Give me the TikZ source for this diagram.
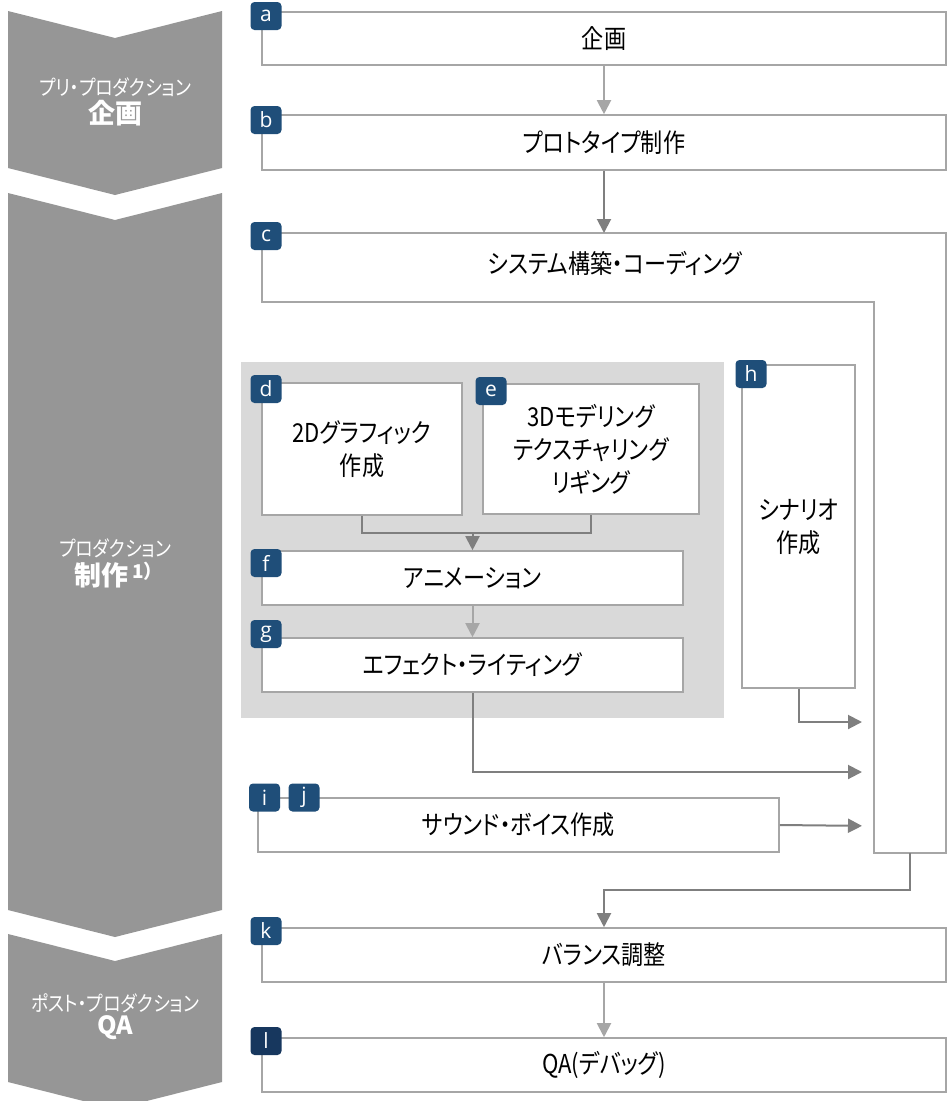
\documentclass[tikz,border=0pt]{standalone}
\usepackage{fontspec}
\usetikzlibrary{arrows.meta,calc}
\newfontfamily\jp[RawFeature=+palt, FakeStretch=0.85]{Noto Sans CJK JP}
\newfontfamily\jpn[RawFeature=+palt]{Noto Sans CJK JP}
\newfontfamily\tagf{Open Sans}
\definecolor{chev}{HTML}{969696}
\definecolor{bord}{HTML}{A6A6A6}
\definecolor{darr}{HTML}{7F7F7F}
\definecolor{larr}{HTML}{A6A6A6}
\definecolor{navy}{HTML}{1F4E79}
\definecolor{navyd}{HTML}{17375E}
\definecolor{panel}{HTML}{D9D9D9}
\tikzset{
  box/.style={draw=bord, line width=1.6pt, fill=white, inner sep=0pt, align=center,
    font=\jp\fontsize{26}{33}\selectfont},
  hidden/.style={inner sep=0pt, outer sep=0pt},
  tagbox/.style={fill=navy, rounded corners=4pt, minimum width=31pt, minimum height=28pt,
    inner sep=0pt, text=white, font=\tagf\fontsize{21}{21}\selectfont},
  tip/.style={-{Triangle[length=14pt,width=14pt]}},
  darrow/.style={draw=darr, line width=2pt, tip},
  larrow/.style={draw=larr, line width=2pt, tip},
  dline/.style={draw=darr, line width=2pt},
  chevshape/.style={fill=chev},
  phsmall/.style={text=white, inner sep=0pt, font=\jp\fontsize{21}{21}\selectfont},
  phbig/.style={text=white, inner sep=0pt, font=\jpn\bfseries\fontsize{27}{27}\selectfont},
}
\begin{document}
\begin{tikzpicture}[x=1pt,y=-1pt]
\useasboundingbox (0,0) rectangle (948,1101);
% chevrons
\fill[chevshape] (8,11) -- (115,38) -- (222,11) -- (222,168) -- (115,195) -- (8,168) -- cycle;
\fill[chevshape] (8,193) -- (115,220) -- (222,193) -- (222,910) -- (115,937) -- (8,910) -- cycle;
\fill[chevshape] (8,934) -- (115,961) -- (222,934) -- (222,1082) -- (115,1109) -- (8,1082) -- cycle;
\node[phsmall] (p1s) at (115,87) {プリ・プロダクション};
\node[phbig] (p1b) at (115,113) {企画};
\node[phsmall] (p2s) at (115,548) {プロダクション};
\node[phbig] (p2b) at (114,575) {制作\,\raisebox{7pt}{\fontsize{19}{19}\selectfont 1）}};
\node[phsmall] (p3s) at (115,1003) {ポスト・プロダクション};
\node[phbig, font=\jpn\bfseries\fontsize{25}{25}\selectfont] (p3b) at (115,1028) {QA};
% panel
\fill[panel] (241,362) rectangle (724,718);
% boxes
\node[box, minimum width=684pt, minimum height=53pt] (a) at (604,38.5) {企画};
\node[box, minimum width=684pt, minimum height=55pt] (b) at (604,142.5) {プロトタイプ制作};
\node[hidden, minimum width=684pt, minimum height=69pt] (c) at (604,267.5) {};
\node[hidden, minimum width=72pt, minimum height=551pt] (cv) at (910,577.5) {};
\draw[draw=bord, line width=1.6pt, fill=white] (c.north west) -- (c.north east) -- (cv.south east)
  -- (cv.south west) -- (cv.north west) -- (c.south west) -- cycle;
\node[hidden, font=\jp\fontsize{26}{33}\selectfont] (ct) at (615,263) {システム構築・コーディング};
\node[box, minimum width=200pt, minimum height=132pt] (d) at (362,449) {2Dグラフィック\\作成};
\node[box, minimum width=216pt, minimum height=130pt] (e) at (591,449) {3Dモデリング\\テクスチャリング\\リギング};
\node[box, minimum width=421pt, minimum height=54pt] (f) at (472.5,578) {アニメーション};
\node[box, minimum width=421pt, minimum height=54pt] (g) at (472.5,665) {エフェクト・ライティング};
\node[box, minimum width=113pt, minimum height=323pt] (h) at (798.5,526.5) {シナリオ\\作成};
\node[box, minimum width=521pt, minimum height=54pt] (ij) at (518.5,825) {サウンド・ボイス作成};
\node[box, minimum width=684pt, minimum height=54pt] (k) at (604,955) {バランス調整};
\node[box, minimum width=684pt, minimum height=54pt] (l) at (604,1065) {QA(デバッグ)};
% connector coordinates
\coordinate (hin) at (874,722);
\coordinate (gin) at (874,772);
\coordinate (ijin) at (874,826);
% connectors
\draw[larrow] (a.south) -- (b.north);
\draw[darrow] (b.south) -- (c.north);
\draw[dline] (d.south) |- (f.north |- 0,533) -| (e.south);
\draw[darrow] (f.north |- 0,533) -- (f.north);
\draw[larrow] (f.south) -- (g.north);
\draw[darrow, shorten >=12pt] (h.south) |- (hin);
\draw[darrow, shorten >=12pt] (g.south) |- (gin);
\draw[darrow, shorten >=12pt] (ij.east) -- (ijin);
\draw[darrow] (cv.south) -- ++(0,37) -| (k.north);
\draw[larrow] (k.south) -- (l.north);
% tags
\node[tagbox] (ta) at (266,16) {a};
\node[tagbox] (tb) at (266,120) {b};
\node[tagbox] (tc) at (266,236) {c};
\node[tagbox] (td) at (266,389) {d};
\node[tagbox] (te) at (491,391) {e};
\node[tagbox] (tf) at (266,563) {f};
\node[tagbox] (tg) at (266,634) {g};
\node[tagbox] (th) at (751,374) {h};
\node[tagbox] (ti) at (264.5,797.5) {i};
\node[tagbox] (tj) at (304,797.5) {j};
\node[tagbox] (tk) at (266,931) {k};
\node[tagbox, fill=navyd] (tl) at (266,1041) {l};
\end{tikzpicture}
\end{document}
